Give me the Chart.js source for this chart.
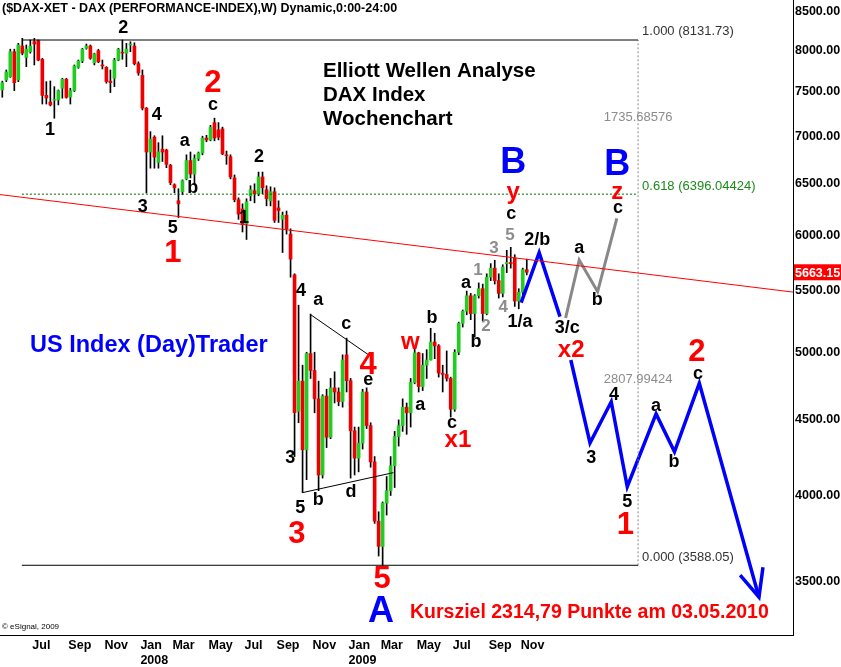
<!DOCTYPE html>
<html>
<head>
<meta charset="utf-8">
<script src="https://cdn.jsdelivr.net/npm/chart.js@4.4.1/dist/chart.umd.min.js"></script>
<style>
  html, body { margin: 0; padding: 0; background: #fff; }
</style>
</head>
<body>
<canvas id="c" width="841" height="667"></canvas>
<script>
// DAX weekly bars, first bar = week of 14 May 2007
var startDate = '2007-05-14';
var opens  = [7523,7641,7679,7985,7641,8056,7914,7985,8110,8123,7891,7460,7384,7404,7407,7543,7649,7441,7515,7793,
              7870,8028,8056,7849,7998,7822,7793,7627,7661,7882,7979,7967,8069,8056,7838,7697,7313,6830,6990,6720,
              6860,6850,6690,6490,6330,6420,6550,6740,6600,6760,6820,6980,6960,7150,7070,7080,6800,6780,6560,6340,
              6250,6110,6380,6430,6400,6570,6440,6330,6420,6260,6150,6190,6010,5640,4560,4780,4295,4990,4860,4650,
              4130,4670,4380,4730,4700,4630,4980,4783,4424,4240,4340,4700,4460,4215,3843,3695,3953,4030,4190,4385,
              4460,4590,4550,4770,4995,4740,4900,4940,5080,5050,4840,4830,4800,4575,5000,5230,5330,5460,5310,5460,
              5520,5310,5620,5700,5590,5480,5740,5750,5790,5415,5490,5686];
var highs  = [7627,7761,8016,8016,8090,8153,8069,8132,8153,8132,7903,7621,7629,7562,7523,7661,7661,7543,7822,7882,
              8028,8081,8069,7967,8016,7882,7801,7761,7903,8028,8132,8090,8110,8097,7860,7761,7320,7050,7005,6930,
              7005,6860,6700,6500,6450,6540,6800,6830,6800,6830,7000,7010,7120,7200,7150,7100,6840,6800,6590,6360,
              6300,6350,6480,6500,6620,6620,6480,6470,6460,6330,6220,6230,6060,5650,5380,4900,5000,5306,5000,4780,
              4680,4720,4800,4850,4730,4980,5111,4800,4450,4450,4720,4730,4480,4250,3900,3960,4120,4250,4420,4500,
              4650,4620,4800,5030,5000,4990,5020,5190,5150,5060,4900,5010,4810,5020,5240,5340,5500,5480,5470,5570,
              5560,5650,5740,5770,5650,5730,5860,5888,5820,5520,5700,5780];
var lows   = [7438,7621,7672,7515,7621,7946,7801,7967,7822,7873,7360,7360,7338,7199,7350,7427,7427,7360,7504,7781,
              7849,8016,7891,7822,7849,7773,7602,7492,7562,7873,7891,7801,7985,7822,7697,7292,6408,6660,6660,6660,
              6730,6665,6490,6410,6167,6390,6540,6560,6500,6740,6800,6940,6950,6950,6960,6800,6700,6550,6320,6150,
              6030,5960,6330,6310,6380,6400,6280,6280,6120,6120,5840,6010,5620,4250,4480,4018,4100,4800,4550,4030,
              4110,4310,4370,4620,4600,4590,4700,4110,4130,4150,4300,4440,4180,3830,3640,3588,3880,4000,4050,4320,
              4420,4400,4450,4760,4700,4710,4800,4940,4950,4810,4700,4780,4520,4560,4980,5200,5300,5260,5120,5440,
              5250,5300,5590,5560,5440,5450,5660,5700,5370,5350,5470,5640];
var closes = [7609,7737,7985,7609,8069,7967,8016,8056,8081,7882,7460,7429,7350,7407,7515,7649,7437,7515,7809,7870,
              8016,8056,7903,7958,7860,7809,7621,7609,7882,8016,7967,8016,8081,7838,7725,7313,6830,6968,6775,6832,
              6830,6700,6510,6460,6300,6530,6740,6600,6760,6820,6980,6960,7100,6980,6990,6810,6790,6570,6340,6200,
              6100,6320,6440,6400,6570,6460,6350,6420,6140,6235,6190,6060,5780,4550,4780,4295,4990,4860,4650,4130,
              4670,4380,4730,4700,4630,4940,4783,4424,4240,4340,4700,4460,4215,3843,3695,3953,4030,4190,4385,4460,
              4590,4550,4770,4995,4740,4900,4940,5080,5050,4840,4830,4800,4575,5000,5230,5330,5460,5310,5460,5520,
              5310,5620,5700,5590,5480,5710,5750,5740,5415,5490,5686,5663.15];

var monthNames = ['Jan','Feb','Mar','Apr','May','Jun','Jul','Aug','Sep','Oct','Nov','Dec'];
var priceTicks = [3500,4000,4500,5000,5500,6000,6500,7000,7500,8000,8500];

// fibonacci tool
var fibHigh = 8131.73, fibLow = 3588.05, fib618 = 6396.04424;
var fibWeeks = [4.9, 158.8];

// trend line and triangle
var trendWeeks = [-0.6, 197.5], trendValues = [6392, 5491];
var triUpperWeeks = [76.9, 91.9], triUpperValues = [5304, 4971];
var triLowerWeeks = [75.0, 97.7], triLowerValues = [4018, 4145];

// projections
var blueAWeeks = [129.6, 134.1, 139.3], blueAValues = [5401, 5839, 5285];
var greyWeeks = [140.7, 144.1, 148.7, 153.5], greyValues = [5274, 5773, 5495, 6160];
var blueBWeeks = [142.0, 146.8, 152.1, 156.1, 163.3, 167.9, 174.1, 189.0];
var blueBValues = [4940, 4341, 4629, 4055, 4542, 4282, 4764, 3414];
var arrowWeeks = [184.3, 189.0, 190.0], arrowValues = [3534, 3414, 3577];

// wave labels: text, week, price, style
var waveLabels = [
  ['2',30.2,8285,'k'],['1',11.9,7069,'k'],['4',38.6,7235,'k'],['3',35.1,6270,'k'],
  ['a',45.6,6948,'k'],['b',47.6,6457,'k'],['5',42.6,6067,'k'],['c',52.6,7349,'k'],
  ['2',64.1,6777,'k'],['1',60.4,6163,'k'],['4',74.6,5500,'k'],['a',78.9,5425,'k'],
  ['c',85.9,5225,'k'],['3',71.9,4241,'k'],['5',74.4,3923,'k'],['b',78.9,3973,'k'],
  ['d',87.1,4022,'k'],['e',91.4,4789,'k'],['a',104.4,4606,'k'],['b',107.3,5273,'k'],
  ['c',112.3,4478,'k'],['a',115.8,5570,'k'],['b',118.3,5081,'k'],['c',127.1,6201,'k'],
  ['1/a',129.3,5242,'k'],['2/b',133.6,5956,'k'],['a',144.1,5882,'k'],['b',148.6,5425,'k'],
  ['c',153.8,6260,'k'],['3/c',141.1,5192,'k'],['3',147.1,4241,'k'],['4',152.8,4677,'k'],
  ['5',156.1,3960,'k'],['a',163.3,4599,'k'],['b',167.8,4215,'k'],['c',173.8,4833,'k'],
  ['2',52.6,7605,'R'],['1',42.6,5835,'R'],['3',73.6,3762,'R'],['4',91.4,4901,'R'],
  ['5',94.9,3508,'R'],['1',155.6,3820,'R'],['2',173.5,5002,'R'],
  ['w',101.9,5081,'r'],['x1',113.8,4362,'r'],['y',127.6,6417,'r'],['x2',142.1,5018,'r'],['z',153.6,6417,'r'],
  ['B',127.6,6714,'B'],['B',153.6,6693,'B'],['A',94.6,3336,'B'],
  ['1',118.8,5684,'g'],['2',120.8,5208,'g'],['3',122.8,5882,'g'],['4',125.1,5365,'g'],['5',126.8,6002,'g']
];

var FONT = '"Liberation Sans", Arial, sans-serif';
var labelStyles = {
  k: { font: 'bold 18px ' + FONT, color: '#000' },
  R: { font: 'bold 31px ' + FONT, color: '#ff0000' },
  r: { font: 'bold 24px ' + FONT, color: '#ff0000' },
  B: { font: 'bold 36px ' + FONT, color: '#0000ff' },
  g: { font: 'bold 17px ' + FONT, color: '#8c8c8c' }
};

function weekDate(i) {
  var d = new Date(startDate + 'T00:00:00Z');
  d.setUTCDate(d.getUTCDate() + 7 * i);
  return d;
}

var xTicks = [];
for (var i = 0; i < closes.length; i++) {
  var d = weekDate(i);
  if (d.getUTCDate() <= 7 && d.getUTCMonth() % 2 === 0) {
    var m = d.getUTCMonth();
    xTicks.push({ value: i, label: m === 0 ? [monthNames[m], String(d.getUTCFullYear())] : monthNames[m] });
  }
}

var bodies = [], wicks = [], bodyColors = [];
for (var i = 0; i < closes.length; i++) {
  var o = opens[i], c = closes[i];
  if (Math.abs(o - c) < o * 0.0012) { c = o * 1.0012; }
  bodies.push({ x: i, y: [o, c] });
  wicks.push({ x: i, y: [lows[i], highs[i]] });
  bodyColors.push(closes[i] >= opens[i] ? '#22cc22' : '#ee0000');
}

function pts(ws, vs) { return ws.map(function (w, k) { return { x: w, y: vs[k] }; }); }

function lineSet(data, color, width, dash) {
  return { type: 'line', data: data, borderColor: color, borderWidth: width, borderDash: dash || [],
           pointRadius: 0, fill: false, tension: 0, order: 0 };
}

function noPad(s) { s.paddingTop = 0; s.paddingBottom = 0; s.paddingLeft = 0; s.paddingRight = 0; }

var texts = {
  id: 'texts',
  afterDatasetsDraw: function (chart) {
    var ctx = chart.ctx, xs = chart.scales.x, ys = chart.scales.y;
    ctx.save();
    ctx.textAlign = 'center';
    ctx.textBaseline = 'middle';
    waveLabels.forEach(function (l) {
      var st = labelStyles[l[3]];
      ctx.font = st.font;
      ctx.fillStyle = st.color;
      ctx.fillText(l[0], xs.getPixelForValue(l[1]), ys.getPixelForValue(l[2]));
    });

    // fibonacci texts
    var fx = xs.getPixelForValue(fibWeeks[1]);
    var yH = ys.getPixelForValue(fibHigh), yM = ys.getPixelForValue(fib618), yL = ys.getPixelForValue(fibLow);
    ctx.font = '13px ' + FONT;
    ctx.textAlign = 'left';
    ctx.fillStyle = '#333';
    ctx.fillText('1.000 (' + fibHigh.toFixed(2) + ')', fx + 4, yH - 9);
    ctx.fillText('0.000 (' + fibLow.toFixed(2) + ')', fx + 4, yL - 8);
    ctx.fillStyle = '#1a8a1a';
    ctx.fillText('0.618 (' + fib618.toFixed(5) + ')', fx + 4, yM - 8);
    ctx.fillStyle = '#8c8c8c';
    ctx.textAlign = 'center';
    ctx.fillText((fibHigh - fib618).toFixed(5), fx, (yH + yM) / 2);
    ctx.fillText((fib618 - fibLow).toFixed(5), fx, (yM + yL) / 2);

    // headline texts
    ctx.textAlign = 'left';
    ctx.fillStyle = '#000';
    ctx.font = 'bold 12.5px ' + FONT;
    ctx.fillText('($DAX-XET - DAX (PERFORMANCE-INDEX),W) Dynamic,0:00-24:00', 2, 9);
    ctx.font = 'bold 20.5px ' + FONT;
    ctx.fillText('Elliott Wellen Analyse', 323, 71);
    ctx.fillText('DAX Index', 323, 95);
    ctx.fillText('Wochenchart', 323, 119);
    ctx.fillStyle = '#0000ff';
    ctx.font = 'bold 23.5px ' + FONT;
    ctx.fillText('US Index (Day)Trader', 30, 346);
    ctx.fillStyle = '#ff0000';
    ctx.font = 'bold 19.5px ' + FONT;
    ctx.fillText('Kursziel 2314,79 Punkte am 03.05.2010', 410, 613);
    ctx.fillStyle = '#000';
    ctx.font = '8px ' + FONT;
    ctx.fillText('\u00a9 eSignal, 2009', 2, 627);

    // last price box on the price axis
    var last = closes[closes.length - 1];
    var yp = ys.getPixelForValue(last);
    ctx.fillStyle = '#ff0000';
    ctx.fillRect(794, yp - 8, 47, 16);
    ctx.fillStyle = '#fff';
    ctx.font = 'bold 12.5px ' + FONT;
    ctx.fillText(last.toFixed(2), 795, yp + 1);
    ctx.restore();
  }
};

new Chart(document.getElementById('c'), {
  type: 'bar',
  data: {
    datasets: [
      { type: 'bar', data: bodies, backgroundColor: bodyColors, borderWidth: 0, barThickness: 3, grouped: false, order: 1 },
      { type: 'bar', data: wicks, backgroundColor: '#000', borderWidth: 0, barThickness: 1, grouped: false, order: 2 },
      lineSet(pts(trendWeeks, trendValues), '#ff0000', 1),
      lineSet(pts(fibWeeks, [fibHigh, fibHigh]), '#000', 1),
      lineSet(pts(fibWeeks, [fibLow, fibLow]), '#000', 1),
      lineSet(pts(fibWeeks, [fib618, fib618]), '#006400', 1, [2, 2]),
      lineSet(pts([fibWeeks[1], fibWeeks[1]], [fibLow, fibHigh]), '#888', 1, [2, 2]),
      lineSet(pts(triUpperWeeks, triUpperValues), '#000', 1),
      lineSet(pts(triLowerWeeks, triLowerValues), '#000', 1),
      lineSet(pts(greyWeeks, greyValues), '#888', 3),
      lineSet(pts(blueAWeeks, blueAValues), '#0000ff', 3.5),
      lineSet(pts(blueBWeeks, blueBValues), '#0000ff', 3.5),
      lineSet(pts(arrowWeeks, arrowValues), '#0000ff', 3.5)
    ]
  },
  options: {
    responsive: false,
    animation: false,
    devicePixelRatio: 1,
    layout: { padding: 0 },
    plugins: { legend: { display: false }, tooltip: { enabled: false } },
    scales: {
      x: {
        type: 'linear',
        offset: false,
        min: -0.575,
        max: 197.5,
        grid: { display: false, drawTicks: false },
        border: { display: true, color: '#000', width: 1 },
        afterBuildTicks: function (s) { s.ticks = xTicks.map(function (t) { return { value: t.value }; }); },
        afterFit: function (s) { s.height = 32; noPad(s); },
        ticks: {
          autoSkip: false, maxRotation: 0, align: 'start', labelOffset: 2, padding: 3,
          color: '#000', font: { family: FONT, size: 12.5, weight: 'bold', lineHeight: 1.2 },
          callback: function (v) {
            for (var k = 0; k < xTicks.length; k++) { if (xTicks[k].value === v) return xTicks[k].label; }
            return '';
          }
        }
      },
      y: {
        type: 'logarithmic',
        position: 'right',
        min: 3218.8,
        max: 8654.5,
        grid: { display: false, drawTicks: false },
        border: { display: true, color: '#000', width: 1 },
        afterBuildTicks: function (s) { s.ticks = priceTicks.map(function (v) { return { value: v }; }); },
        afterFit: function (s) { s.width = 48; noPad(s); },
        ticks: {
          padding: 2, color: '#000', font: { family: FONT, size: 12.5, weight: 'bold' },
          callback: function (v) { return Number(v).toFixed(2); }
        }
      }
    }
  },
  plugins: [texts]
});
</script>
</body>
</html>
